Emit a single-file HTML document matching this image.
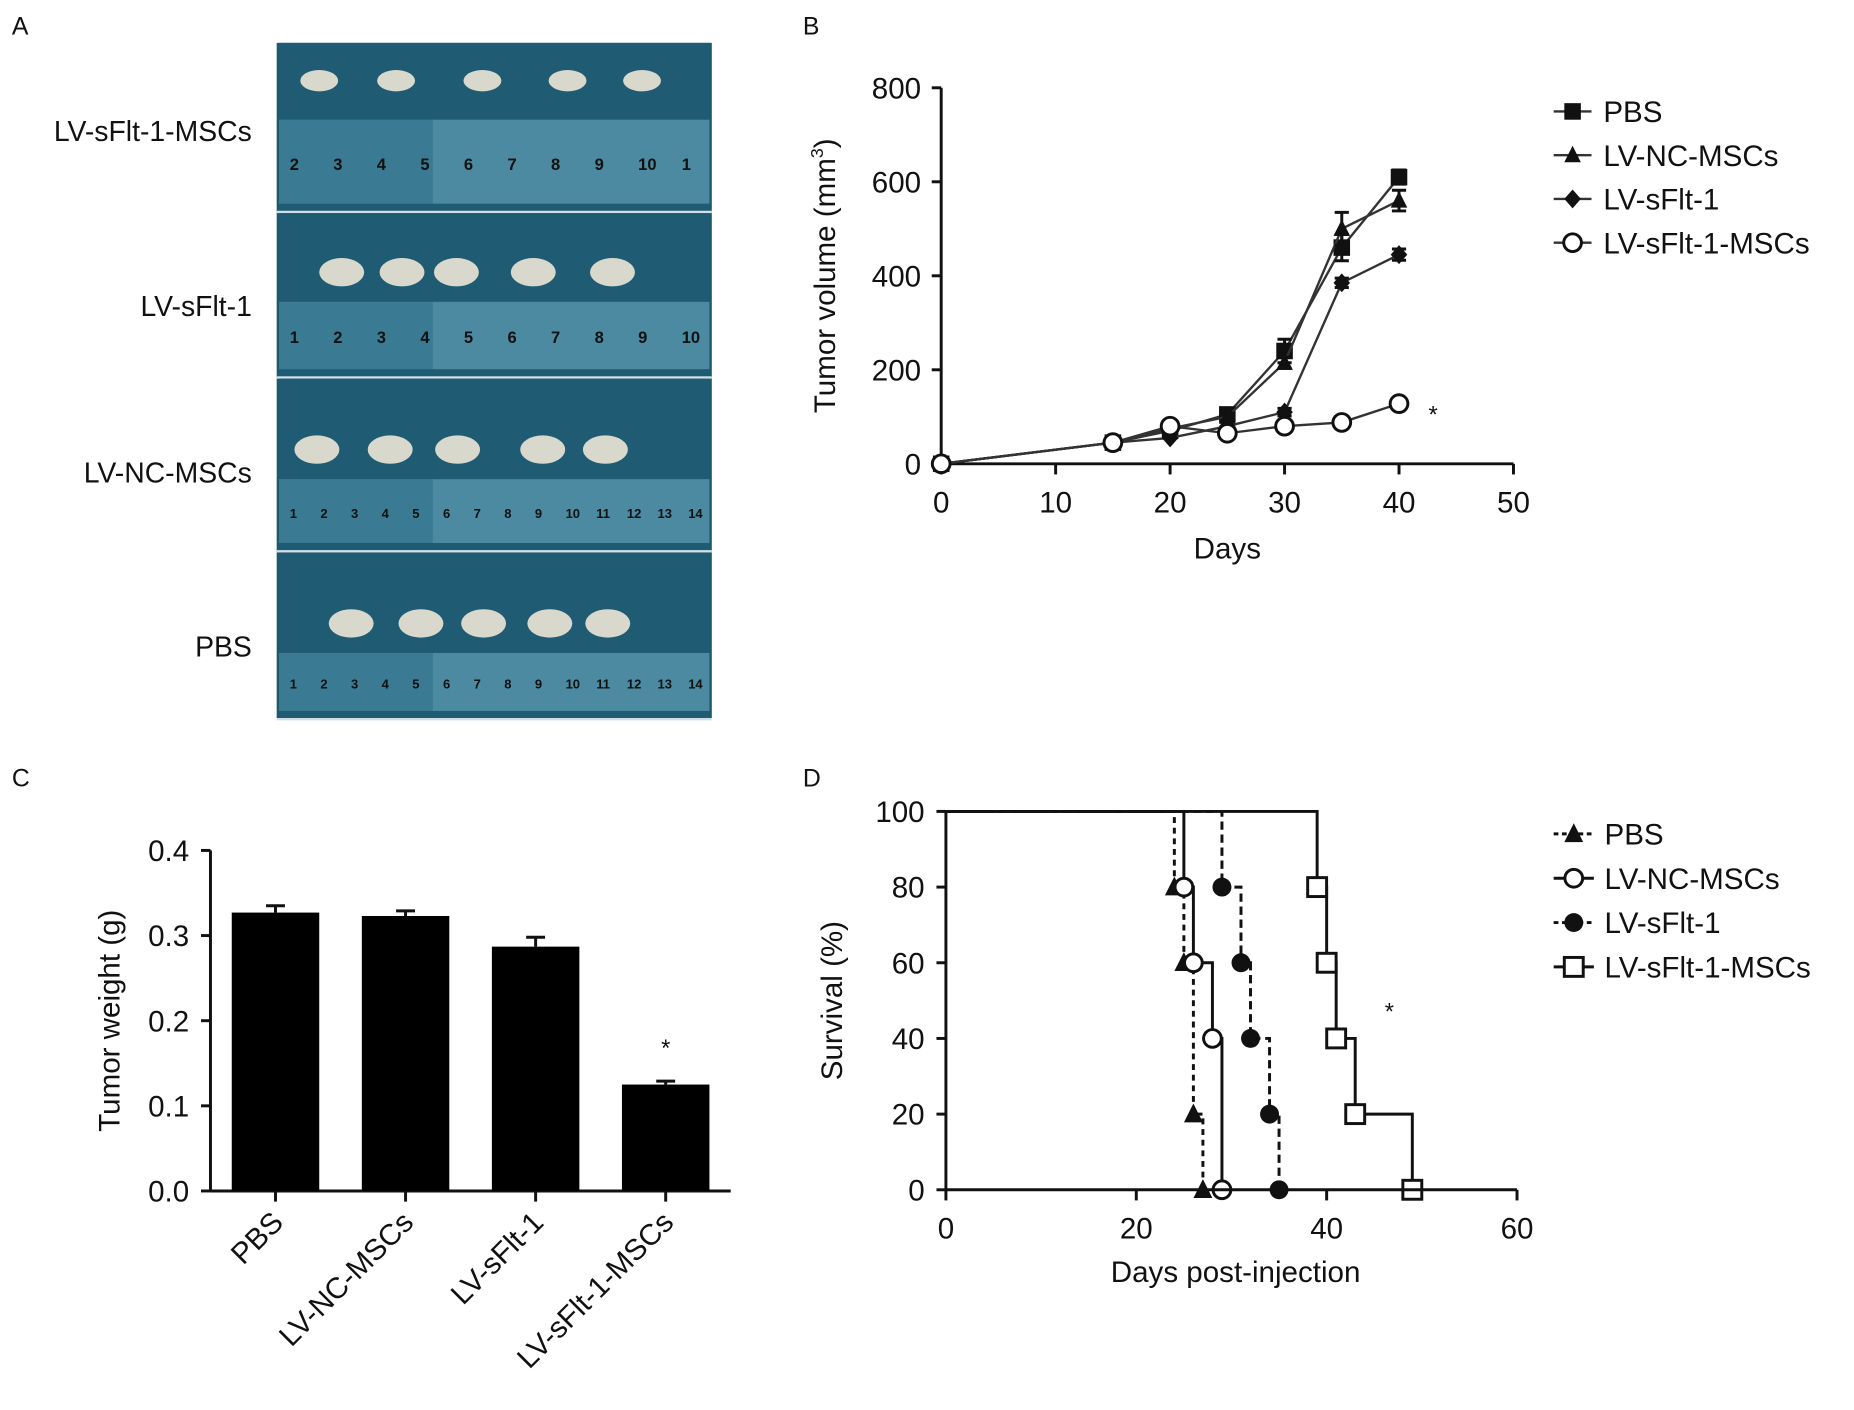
<!DOCTYPE html>
<html><head><meta charset="utf-8"><style>
html,body{margin:0;padding:0;background:#fff}
svg{display:block}
text{font-family:"Liberation Sans",Arial,sans-serif;fill:#111}
</style></head><body>
<svg id="fig" width="1854" height="1410" viewBox="0 0 1568 1192" xmlns="http://www.w3.org/2000/svg">
<g>
<text x="10" y="29" font-size="21">A</text>
<rect x="234" y="36" width="368" height="571" fill="#1d5870"/>
<g id="strips"></g>
<text x="213" y="119" font-size="24" text-anchor="end">LV-sFlt-1-MSCs</text>
<text x="213" y="267" font-size="24" text-anchor="end">LV-sFlt-1</text>
<text x="213" y="408" font-size="24" text-anchor="end">LV-NC-MSCs</text>
<text x="213" y="555" font-size="24" text-anchor="end">PBS</text>
</g>
<g id="panelB">
<text x="679" y="29" font-size="21">B</text>
</g>
<g id="panelC">
<text x="10" y="665" font-size="21">C</text>
</g>
<g id="panelD">
<text x="679" y="665" font-size="21">D</text>
</g>
</svg>
<script>
const NS="http://www.w3.org/2000/svg";
function mk(parent,tag,attrs,txt){const e=document.createElementNS(NS,tag);for(const k in attrs)e.setAttribute(k,attrs[k]);if(txt!==undefined)e.textContent=txt;parent.appendChild(e);return e;}

// ---------- Panel A (photo approximation) ----------
const stripsG=document.getElementById('strips');
const stripTops=[36,180,320,467];
const stripHeights=[142,138,145,140];
const rulerNums=[["2","3","4","5","6","7","8","9","10","1"],["1","2","3","4","5","6","7","8","9","10"],["1","2","3","4","5","6","7","8","9","10","11","12","13","14"],["1","2","3","4","5","6","7","8","9","10","11","12","13","14"]];
const tumorX=[[270,335,408,480,543],[289,340,386,451,518],[268,330,387,459,512],[297,356,409,465,514]];
stripTops.forEach((t,i)=>{
  const h=stripHeights[i];
  const s=mk(stripsG,'rect',{x:236,y:t,width:364,height:h,fill:'#1f5b73'});
  
  
  const ry = i===0? t+65 : (i===1? t+75 : t+85);
  const r=mk(stripsG,'rect',{x:236,y:ry,width:364,height:h-(ry-t)-6,fill:'#4b8aa0'});
  
  
  mk(stripsG,'rect',{x:236,y:ry,width:130,height:h-(ry-t)-6,fill:'#2f6f88',opacity:0.6});
  const nums=rulerNums[i];
  nums.forEach((n,j)=>{
    const x=245+j*(350/(nums.length-0.5));
    const tx=mk(stripsG,'text',{x:x,y:ry+(h-(ry-t))*0.55,'font-size':nums.length>10?11:14,'font-family':'Liberation Serif',fill:'#0d2530','font-weight':'bold'},n);
    
    
  });
  tumorX[i].forEach(x=>{
    const e=mk(stripsG,'ellipse',{cx:x,cy:ry-25+(i===0?-8:0),rx:i===0?16:19,ry:i===0?9:12,fill:'#d9d8cc'});
    
    
  });
  mk(stripsG,'rect',{x:234,y:t+h,width:368,height:2,fill:'#cfdfe6'});
});

// ---------- Panel B: tumor volume ----------
const daysB=[0,15,20,25,30,35,40];
const seriesNamesB=["PBS","LV-NC-MSCs","LV-sFlt-1","LV-sFlt-1-MSCs"];
const pbsVol=[0,45,70,105,240,460,610];
const ncVol=[0,45,75,100,215,500,560];
const sfltVol=[0,45,55,80,110,385,445];
const mscVol=[0,45,80,65,80,88,128];
const pbsErr=[0,5,5,8,25,28,15];
const ncErr=[0,5,5,8,12,35,22];
const sfltErr=[0,5,5,5,8,10,12];
const mscErr=[0,4,4,4,4,4,6];
const ticksBx=[0,10,20,30,40,50];
const ticksBy=[0,200,400,600,800];
const xB=d=>796+d*9.68, yB=v=>392-v*0.3975;
const gB=document.getElementById('panelB');
function axisLine(g,x1,y1,x2,y2,name){const l=mk(g,'line',{x1,y1,x2,y2,stroke:'#111','stroke-width':2.5});return l;}
axisLine(gB,xB(0),yB(0),xB(50),yB(0),'x-axis');
axisLine(gB,xB(0),yB(0),xB(0),yB(800),'y-axis');
ticksBx.forEach(t=>{axisLine(gB,xB(t),yB(0),xB(t),yB(0)+9,'x-tick');const tx=mk(gB,'text',{x:xB(t),y:433,'font-size':25,'text-anchor':'middle'},String(t));});
ticksBy.forEach(t=>{axisLine(gB,xB(0)-8,yB(t),xB(0),yB(t),'y-tick');const tx=mk(gB,'text',{x:779,y:yB(t)+9,'font-size':25,'text-anchor':'end'},String(t));});
let t1=mk(gB,'text',{x:1038,y:472,'font-size':25,'text-anchor':'middle'},'Days');
let t2=mk(gB,'text',{transform:'translate(706,233) rotate(-90)','font-size':25,'text-anchor':'middle'});
t2.innerHTML='Tumor volume (mm<tspan font-size="15" dy="-10">3</tspan><tspan dy="10">)</tspan>';
function marker(g,type,x,y,s){
  s=s||7;
  if(type==='square')return mk(g,'rect',{x:x-s,y:y-s,width:2*s,height:2*s,fill:'#111'});
  if(type==='triangle')return mk(g,'polygon',{points:`${x},${y-s-1} ${x-s},${y+s-1} ${x+s},${y+s-1}`,fill:'#111'});
  if(type==='diamond')return mk(g,'polygon',{points:`${x},${y-s-1} ${x+s},${y} ${x},${y+s+1} ${x-s},${y}`,fill:'#111'});
  if(type==='circle')return mk(g,'circle',{cx:x,cy:y,r:s-0.5,fill:'#fff',stroke:'#111','stroke-width':2.5});
  if(type==='dot')return mk(g,'circle',{cx:x,cy:y,r:s,fill:'#111'});
  if(type==='osquare')return mk(g,'rect',{x:x-s,y:y-s,width:2*s,height:2*s,fill:'#fff',stroke:'#111','stroke-width':2.5});
}
const seriesB=[[pbsVol,pbsErr,'square'],[ncVol,ncErr,'triangle'],[sfltVol,sfltErr,'diamond'],[mscVol,mscErr,'circle']];
seriesB.forEach((s,i)=>{
  const [vals,errs,m]=s;
  const pl=mk(gB,'polyline',{points:daysB.map((d,j)=>xB(d)+','+yB(vals[j])).join(' '),fill:'none',stroke:'#333','stroke-width':2});
  
  
  daysB.forEach((d,j)=>{
    if(errs[j]>6){
      const eb=mk(gB,'path',{d:`M${xB(d)},${yB(vals[j]+errs[j])}V${yB(vals[j]-errs[j])}M${xB(d)-6},${yB(vals[j]+errs[j])}h12M${xB(d)-6},${yB(vals[j]-errs[j])}h12`,stroke:'#111','stroke-width':2.5,fill:'none'});
      
      
    }
    const mm=marker(gB,m,xB(d),yB(vals[j]),m==='circle'?8:7);
    
    
  });
  const ly=94+i*37;
  const ll=mk(gB,'line',{x1:1314,y1:ly,x2:1346,y2:ly,stroke:'#333','stroke-width':2});
  
  
  const lm=marker(gB,m,1330,ly,m==='circle'?8:7);
  
  
  const lt=mk(gB,'text',{x:1356,y:ly+9,'font-size':25},seriesNamesB[i]);
  
  
});
let sB=mk(gB,'text',{x:1212,y:357,'font-size':20,'text-anchor':'middle'},'*');

// ---------- Panel C: tumor weight ----------
const catsC=["PBS","LV-NC-MSCs","LV-sFlt-1","LV-sFlt-1-MSCs"];
const weightC=[0.327,0.323,0.287,0.125];
const weightErrC=[0.008,0.006,0.011,0.004];
const ticksCy=[0.0,0.1,0.2,0.3,0.4];
const yC=v=>1007-v*720;
const xC=i=>233+i*110;
const gC=document.getElementById('panelC');
axisLine(gC,178,yC(0),618,yC(0),'x-axis');
axisLine(gC,178,yC(0),178,yC(0.4),'y-axis');
ticksCy.forEach(t=>{axisLine(gC,170,yC(t),178,yC(t),'y-tick');const tx=mk(gC,'text',{x:160,y:yC(t)+9,'font-size':25,'text-anchor':'end'},t.toFixed(1));});
let tc=mk(gC,'text',{transform:'translate(101,863) rotate(-90)','font-size':25,'text-anchor':'middle'},'Tumor weight (g)');
catsC.forEach((c,i)=>{
  const x=xC(i);
  const e=mk(gC,'path',{d:`M${x},${yC(weightC[i])}V${yC(weightC[i]+weightErrC[i])}M${x-8},${yC(weightC[i]+weightErrC[i])}h16`,stroke:'#111','stroke-width':2.5,fill:'none'});
  
  
  const b=mk(gC,'rect',{x:x-37,y:yC(weightC[i]),width:74,height:yC(0)-yC(weightC[i]),fill:'#000'});
  
  
  axisLine(gC,x,yC(0),x,yC(0)+9,'x-tick');
  const l=mk(gC,'text',{transform:`translate(${x+8},${yC(0)+28}) rotate(-45)`,'font-size':25,'text-anchor':'end'},c);
  
  
});
let sC=mk(gC,'text',{x:xC(3),y:893,'font-size':20,'text-anchor':'middle'},'*');

// ---------- Panel D: survival ----------
const seriesNamesD=["PBS","LV-NC-MSCs","LV-sFlt-1","LV-sFlt-1-MSCs"];
const pbsDays=[0,24,25,26,27];
const pbsSurv=[100,80,60,20,0];
const ncDays=[0,25,26,28,29];
const ncSurv=[100,80,60,40,0];
const sfltDays=[0,29,31,32,34,35];
const sfltSurv=[100,80,60,40,20,0];
const mscDays=[0,39,40,41,43,49];
const mscSurv=[100,80,60,40,20,0];
const ticksDx=[0,20,40,60];
const ticksDy=[0,20,40,60,80,100];
const xD=d=>800+d*8.05, yD=v=>1006-v*3.2;
const gD=document.getElementById('panelD');
ticksDx.forEach(t=>{axisLine(gD,xD(t),yD(0),xD(t),yD(0)+9,'x-tick');const tx=mk(gD,'text',{x:xD(t),y:1047,'font-size':25,'text-anchor':'middle'},String(t));});
ticksDy.forEach(t=>{axisLine(gD,xD(0)-8,yD(t),xD(0),yD(t),'y-tick');const tx=mk(gD,'text',{x:782,y:yD(t)+9,'font-size':25,'text-anchor':'end'},String(t));});
let td=mk(gD,'text',{x:1045,y:1084,'font-size':25,'text-anchor':'middle'},'Days post-injection');
let td2=mk(gD,'text',{transform:'translate(712,846) rotate(-90)','font-size':25,'text-anchor':'middle'},'Survival (%)');
const seriesD=[[pbsDays,pbsSurv,'triangle','5,4'],[ncDays,ncSurv,'circle',''],[sfltDays,sfltSurv,'dot','7,4'],[mscDays,mscSurv,'osquare','']];
seriesD.forEach((s,i)=>{
  const [ds,vs,m,dash]=s;
  let d=`M${xD(ds[0])},${yD(vs[0])}`;
  for(let j=1;j<ds.length;j++){d+=`H${xD(ds[j])}V${yD(vs[j])}`;}
  const p=mk(gD,'path',{d:d,fill:'none',stroke:'#111','stroke-width':2.5,'stroke-dasharray':dash});
  
  
  for(let j=1;j<ds.length;j++){
    const mm=marker(gD,m,xD(ds[j]),yD(vs[j]),8);
    
    
  }
  const ly=705+i*37.5;
  const ll=mk(gD,'line',{x1:1314,y1:ly,x2:1348,y2:ly,stroke:'#111','stroke-width':2.5,'stroke-dasharray':dash?'4,3':''});
  
  
  const lm=marker(gD,m,1331,ly,8);
  
  
  const lt=mk(gD,'text',{x:1357,y:ly+9,'font-size':25},seriesNamesD[i]);
  
  
});
axisLine(gD,xD(0),yD(0),xD(60),yD(0),'x-axis');
axisLine(gD,xD(0),yD(0),xD(0),yD(100),'y-axis');
let sD=mk(gD,'text',{x:1175,y:862,'font-size':20,'text-anchor':'middle'},'*');
</script>
</body></html>
